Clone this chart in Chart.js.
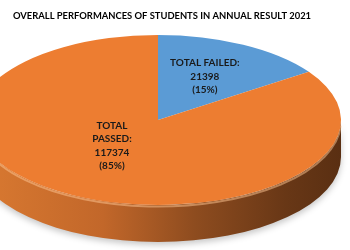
<!DOCTYPE html>
<html>
<head>
<meta charset="utf-8">
<script src="https://cdn.jsdelivr.net/npm/chart.js@4"></script>
<style>
html,body{margin:0;padding:0;background:#fff;}
#wrap{width:350px;height:250px;position:relative;}
</style>
</head>
<body>
<div id="wrap"><canvas id="c" width="350" height="250"></canvas></div>
<script>
const categories = ['TOTAL FAILED', 'TOTAL PASSED'];
const labelLines = [['TOTAL FAILED:'], ['TOTAL', 'PASSED:']];
const values = [21398, 117374];
const percents = ['15%', '85%'];
const colors = ['#5B9BD5', '#ED7D31'];
const titleText = 'OVERALL PERFORMANCES OF STUDENTS IN ANNUAL RESULT 2021';

// ellipse geometry of the tilted pie on screen
const G = {tx: 158, ty: 120, rx: 183, ry: 85, depth: 37};

const pie3d = {
  id: 'pie3d',
  beforeDatasetsDraw(chart) {
    const ctx = chart.ctx;
    const arc = chart.getDatasetMeta(0).data[0];
    const r = arc.outerRadius;
    ctx.save();
    const grad = ctx.createLinearGradient(G.tx - G.rx, 0, G.tx + G.rx, 0);
    grad.addColorStop(0, '#DA7A31');
    grad.addColorStop(0.35, '#C2672A');
    grad.addColorStop(0.6, '#8E4C1F');
    grad.addColorStop(0.85, '#683716');
    grad.addColorStop(1, '#5A2F12');
    ctx.shadowColor = 'rgba(0,0,0,0.22)';
    ctx.shadowBlur = 6;
    ctx.shadowOffsetY = 3;
    ctx.beginPath();
    ctx.ellipse(G.tx, G.ty, G.rx, G.ry, 0, 0, Math.PI);
    ctx.ellipse(G.tx, G.ty + G.depth, G.rx, G.ry, 0, Math.PI, 0, true);
    ctx.closePath();
    ctx.fillStyle = grad;
    ctx.fill();
    ctx.restore();
    ctx.save();
    ctx.beginPath();
    ctx.ellipse(G.tx, G.ty + 1.5, G.rx, G.ry, 0, 0.05, Math.PI);
    ctx.strokeStyle = 'rgba(255,200,150,0.5)';
    ctx.lineWidth = 2;
    ctx.stroke();
    ctx.restore();
    ctx.save();
    ctx.translate(G.tx, G.ty);
    ctx.scale(G.rx / r, G.ry / r);
    ctx.translate(-arc.x, -arc.y);
  },
  afterDatasetsDraw(chart) {
    const ctx = chart.ctx;
    ctx.restore();
    const meta = chart.getDatasetMeta(0);
    const fr = [[0.55, 0.58], [0.54, 0.34]];
    ctx.save();
    ctx.fillStyle = '#1a1a1a';
    ctx.font = 'bold 10px Lato, "Open Sans", sans-serif';
    ctx.textAlign = 'center';
    ctx.textBaseline = 'middle';
    meta.data.forEach((a, i) => {
      const mid = (a.startAngle + a.endAngle) / 2;
      const x = G.tx + fr[i][0] * G.rx * Math.cos(mid);
      const y = G.ty + fr[i][1] * G.ry * Math.sin(mid);
      const lines = labelLines[i].concat([String(values[i]), '(' + percents[i] + ')']);
      const lh = 13.5;
      const y0 = y - (lines.length - 1) * lh / 2;
      lines.forEach((t, k) => ctx.fillText(t, x, y0 + k * lh));
    });
    ctx.restore();
  }
};

new Chart(document.getElementById('c'), {
  type: 'pie',
  data: {
    labels: categories,
    datasets: [{
      data: values,
      backgroundColor: colors,
      borderWidth: 0,
      clip: false
    }]
  },
  options: {
    responsive: false,
    animation: false,
    layout: {padding: {left: 13, top: 10}},
    plugins: {
      legend: {display: false},
      tooltip: {enabled: false},
      title: {
        display: true,
        text: titleText,
        align: 'start',
        color: '#000',
        font: {family: 'Lato', weight: 'bold', size: 9.4},
        padding: {top: 0, bottom: 10}
      }
    }
  },
  plugins: [pie3d]
});
</script>
</body>
</html>
